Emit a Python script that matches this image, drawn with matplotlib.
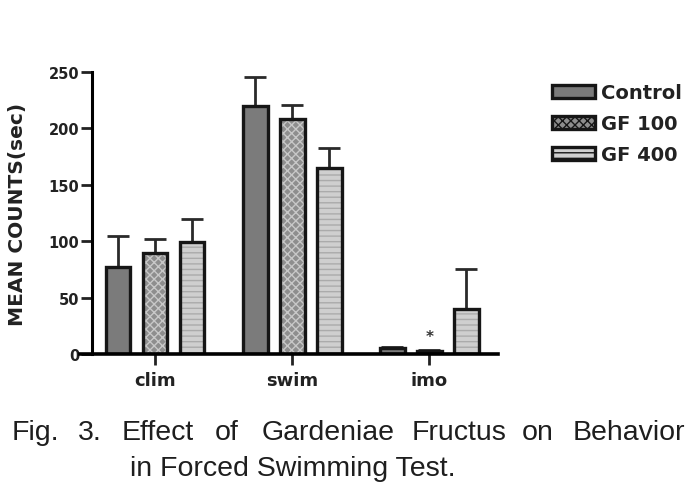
import numpy as np
import matplotlib
matplotlib.use("Agg")
from matplotlib import pyplot as plt
from matplotlib.patches import Patch

# 数据
categories = ["clim", "swim", "imo"]
groups = ["Control", "GF 100", "GF 400"]
means = {
    "Control": [77, 220, 5],
    "GF 100": [90, 208, 3],
    "GF 400": [99, 165, 40],
}
errs = {
    "Control": [28, 26, 1],
    "GF 100": [12, 13, 1],
    "GF 400": [21, 18, 35],
}
yticks = [0, 50, 100, 150, 200, 250]

# 样式
fills = {"Control": "#7b7b7b", "GF 100": "#8e8e8e", "GF 400": "#cfcfcf"}
hatches = {"Control": None, "GF 100": "xxxx", "GF 400": "---"}
hatch_cols = {"Control": "#7b7b7b", "GF 100": "#c8c8c8", "GF 400": "#ababab"}
edge = "#161616"
txt = "#222222"

fig = plt.figure(figsize=(6.88, 4.85), dpi=100)
ax = fig.add_axes([0.1337, 0.268, 0.590, 0.5814])

x = np.arange(len(categories))
offsets = [-0.27, 0.0, 0.27]
width = 0.18

for g, off in zip(groups, offsets):
    # 填充+纹理
    ax.bar(x + off, means[g], width, color=fills[g], edgecolor=hatch_cols[g],
           hatch=hatches[g], linewidth=0, zorder=2)
    # 外框
    ax.bar(x + off, means[g], width, facecolor="none", edgecolor=edge,
           linewidth=2.4, zorder=3)
    ax.errorbar(x + off, means[g], yerr=[np.zeros(3), errs[g]], fmt="none",
                ecolor="#2a2a2a", elinewidth=2, capsize=8, capthick=2, zorder=1)

# 显著性
ax.text(x[2], means["GF 100"][2] + 6, "*", ha="center", va="bottom",
        fontsize=11, fontweight="bold", color="#333333")

ax.set_xlim(-0.46, 2.5)
ax.set_ylim(0, 250)
ax.set_yticks(yticks)
ax.set_xticks(x)
ax.set_xticklabels(categories)

for s in ["top", "right"]:
    ax.spines[s].set_visible(False)
ax.spines["left"].set_linewidth(2.2)
ax.spines["bottom"].set_linewidth(2.6)
ax.spines["bottom"].set_bounds(-0.55, 2.5)
ax.spines["bottom"].set_zorder(4)
ax.tick_params(axis="both", direction="out", width=2, length=8, color=txt)
ax.tick_params(axis="y", labelsize=10.5, pad=1)
ax.tick_params(axis="x", labelsize=13, pad=4)
for lab in ax.get_xticklabels() + ax.get_yticklabels():
    lab.set_fontweight("bold")
    lab.set_color(txt)

ax.set_ylabel("MEAN COUNTS(sec)", fontsize=14.5, fontweight="bold", color=txt)
ax.yaxis.set_label_coords(-0.16, 0.5)

handles = [Patch(facecolor=fills[g], edgecolor=edge, hatch=hatches[g],
                 linewidth=2.4) for g in groups]
leg = fig.legend(handles, groups, loc="upper left",
                 bbox_to_anchor=(552 / 688, 1 - 84 / 485),
                 frameon=False, borderpad=0, borderaxespad=0,
                 handlelength=2.2, handleheight=0.65,
                 handletextpad=0.3, labelspacing=0.62,
                 prop={"weight": "bold", "size": 14})
for t in leg.get_texts():
    t.set_color(txt)

# 图注
cap_font = ["Liberation Sans", "DejaVu Sans"]
words = [("Fig.", 12), ("3.", 78), ("Effect", 122), ("of", 215),
         ("Gardeniae", 262), ("Fructus", 412), ("on", 522), ("Behavior", 573)]
for w, px in words:
    fig.text(px / 688, 1 - 440 / 485, w, family=cap_font, fontsize=20.5,
             color="#1e1e1e", ha="left", va="baseline")
fig.text(130 / 688, 1 - 476 / 485, "in Forced Swimming Test.", family=cap_font,
         fontsize=20.5, color="#1e1e1e", ha="left", va="baseline")

fig.savefig("out.png", dpi=100)
